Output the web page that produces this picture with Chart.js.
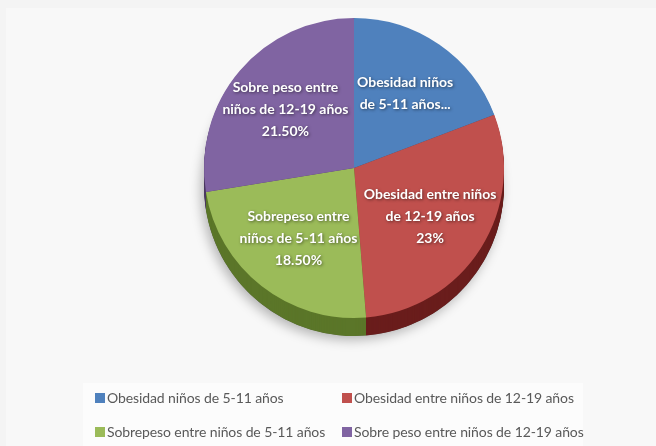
<!DOCTYPE html>
<html>
<head>
<meta charset="utf-8">
<script src="https://cdn.jsdelivr.net/npm/chart.js@4.4.1/dist/chart.umd.min.js"></script>
<style>
  html, body { margin: 0; padding: 0; }
  body { width: 656px; height: 446px; background: #f4f4f4; overflow: hidden; }
  #wrap { position: relative; width: 656px; height: 446px; }
  #inner { position: absolute; left: 6px; top: 8px; width: 650px; height: 438px; background: #f8f8f8; }
  #legbox { position: absolute; left: 83px; top: 383px; width: 500px; height: 63px; background: #fcfcfc; }
  canvas { position: absolute; left: 0; top: 0; }
  #legend { position: absolute; left: 95px; top: 388px; display: grid;
    grid-template-columns: 247px auto; row-gap: 14px;
    font-family: Lato, 'Liberation Sans', sans-serif;
    font-size: 14px; letter-spacing: -0.1px; line-height: 20px; color: #595959; }
  .item { display: flex; align-items: center; white-space: nowrap; }
  .sw { width: 10px; height: 10px; margin-right: 2px; flex: none; }
</style>
</head>
<body>
<div id="wrap">
  <div id="inner"></div>
  <div id="legbox"></div>
  <canvas id="c" width="656" height="446"></canvas>
  <div id="legend"></div>
</div>
<script>
const categories = [
  'Obesidad niños de 5-11 años',
  'Obesidad entre niños de 12-19 años',
  'Sobrepeso entre niños de 5-11 años',
  'Sobre peso entre niños de 12-19 años'
];
const values = [15, 23, 18.5, 21.5];
const sliceLabelLines = [
  ['Obesidad niños', 'de 5-11 años...'],
  ['Obesidad entre niños', 'de 12-19 años', '23%'],
  ['Sobrepeso entre', 'niños de 5-11 años', '18.50%'],
  ['Sobre peso entre', 'niños de 12-19 años', '21.50%']
];
const topColors = ['#4F81BD', '#C0504D', '#9BBB59', '#8064A2'];
const sideColors = ['#2f5079', '#6a1d1c', '#5b7629', '#4c3a62'];

const DEPTH = 18;

const sidePlugin = {
  id: 'side3d',
  beforeDatasetsDraw(chart) {
    const ctx = chart.ctx;
    const meta = chart.getDatasetMeta(0);
    ctx.save();
    const a0 = meta.data[0];
    ctx.save();
    ctx.shadowColor = 'rgba(0,0,0,0.28)';
    ctx.shadowBlur = 12;
    ctx.shadowOffsetX = -3;
    ctx.shadowOffsetY = 4;
    ctx.beginPath();
    ctx.arc(a0.x, a0.y + DEPTH, a0.outerRadius, 0, Math.PI * 2);
    ctx.fillStyle = '#555';
    ctx.fill();
    ctx.restore();
    for (let d = DEPTH; d >= 1; d--) {
      meta.data.forEach((arc, i) => {
        ctx.beginPath();
        ctx.moveTo(arc.x, arc.y + d);
        ctx.arc(arc.x, arc.y + d, arc.outerRadius, arc.startAngle, arc.endAngle);
        ctx.closePath();
        ctx.fillStyle = sideColors[i];
        ctx.fill();
      });
    }
    ctx.restore();
  }
};

const labelPlugin = {
  id: 'sliceLabels',
  afterDatasetsDraw(chart) {
    const ctx = chart.ctx;
    const meta = chart.getDatasetMeta(0);
    ctx.save();
    ctx.font = "bold 14px Lato, 'Liberation Sans', sans-serif";
    ctx.textAlign = 'center';
    ctx.textBaseline = 'middle';
    ctx.fillStyle = '#ffffff';
    ctx.shadowColor = 'rgba(0,0,0,0.5)';
    ctx.shadowBlur = 3;
    ctx.shadowOffsetX = 1;
    ctx.shadowOffsetY = 1;
    meta.data.forEach((arc, i) => {
      const mid = (arc.startAngle + arc.endAngle) / 2;
      const rr = arc.outerRadius * 0.6;
      const cx = arc.x + Math.cos(mid) * rr;
      const cy = arc.y + Math.sin(mid) * rr;
      const lines = sliceLabelLines[i];
      const lh = 22;
      const y0 = cy - (lines.length - 1) * lh / 2;
      lines.forEach((t, k) => ctx.fillText(t, cx, y0 + k * lh));
    });
    ctx.restore();
  }
};

new Chart(document.getElementById('c'), {
  type: 'pie',
  data: {
    labels: categories,
    datasets: [{
      data: values,
      backgroundColor: topColors,
      borderWidth: 0
    }]
  },
  options: {
    responsive: false,
    devicePixelRatio: 1,
    animation: false,
    layout: { padding: { left: 204, right: 152, top: 18, bottom: 128 } },
    plugins: {
      legend: { display: false },
      tooltip: { enabled: false }
    }
  },
  plugins: [sidePlugin, labelPlugin]
});

const leg = document.getElementById('legend');
categories.forEach((name, i) => {
  const it = document.createElement('div');
  it.className = 'item';
  const sw = document.createElement('span');
  sw.className = 'sw';
  sw.style.background = topColors[i];
  const tx = document.createElement('span');
  tx.textContent = name;
  it.appendChild(sw);
  it.appendChild(tx);
  leg.appendChild(it);
});
</script>
</body>
</html>
